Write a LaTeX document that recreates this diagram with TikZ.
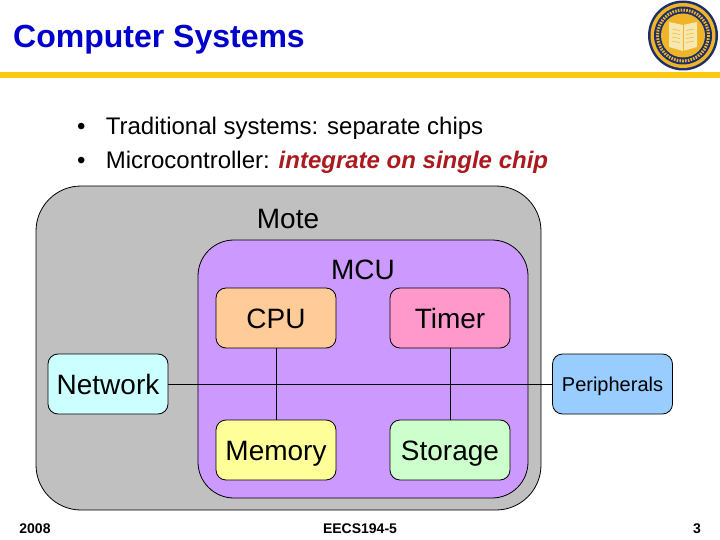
\documentclass[tikz,border=0pt]{standalone}
\usepackage{fontspec}
\setmainfont{Liberation Sans}
\usepackage{xcolor}
\usetikzlibrary{positioning}
\definecolor{TitleBlue}{HTML}{0000CC}
\definecolor{BarGold}{HTML}{FBC90F}
\definecolor{SealNavy}{HTML}{1C2F6B}
\definecolor{SealGold}{HTML}{F0B429}
\definecolor{SealCream}{HTML}{F7E7B0}
\definecolor{ChipRed}{HTML}{AA1A1F}
\definecolor{MoteGray}{HTML}{C0C0C0}
\definecolor{McuPurple}{HTML}{CC99FF}
\definecolor{CpuOrange}{HTML}{FFCC99}
\definecolor{TimerPink}{HTML}{FF99CC}
\definecolor{NetCyan}{HTML}{CCFFFF}
\definecolor{PeriphBlue}{HTML}{99CCFF}
\definecolor{MemYellow}{HTML}{FFFF99}
\definecolor{StoreGreen}{HTML}{CCFFCC}
\tikzset{
  blockbox/.style={draw=black, line width=0.8pt, rectangle, rounded corners=10pt,
                   minimum width=120pt, minimum height=60pt, inner sep=0pt,
                   outer sep=0pt, text height=20pt, text depth=0pt,
                   font=\fontsize{28}{30}\selectfont},
  groupbox/.style={draw=black, line width=0.8pt, rectangle, inner sep=0pt, outer sep=0pt},
  grouplabel/.style={font=\fontsize{28}{30}\selectfont, inner sep=0pt, text height=20pt, text depth=0pt},
  bulletline/.style={anchor=base west, font=\fontsize{24}{26}\selectfont, inner sep=0pt},
  footer/.style={anchor=base, font=\fontsize{14}{16}\selectfont\bfseries, inner sep=0pt},
  wire/.style={draw=black, line width=0.8pt}
}

\begin{document}
\begin{tikzpicture}[x=1pt, y=-1pt, node distance=54pt]
  \useasboundingbox (0,0) rectangle (720,540);
  \fill[white] (0,0) rectangle (720,540);

  % title and bar
  \node[anchor=base west, inner sep=0pt, text=TitleBlue, font=\fontsize{32}{34}\selectfont\bfseries]
    (title) at (13,48) {Computer Systems};
  \fill[BarGold] (0,72) rectangle (720,78.5);

  % seal
  \fill[SealNavy] (683,35.5) circle[radius=35];
  \fill[SealGold] (683,35.5) circle[radius=32.5];
  \fill[SealNavy] (683,35.5) circle[radius=29];
  \draw[SealGold, line width=3pt, dash pattern=on 1.6pt off 1.2pt] (683,35.5) circle[radius=25.5];
  \fill[SealGold] (683,35.5) circle[radius=22];
  \fill[SealCream] (669,22) -- (683,25) -- (697,22) -- (697,47) -- (683,51) -- (669,47) -- cycle;
  \draw[SealGold, line width=1pt] (683,25) -- (683,51);
  \foreach \rowy in {29,33,37,41} {
    \draw[SealGold, line width=0.5pt] (672,\rowy) -- (680,\rowy+1.5);
    \draw[SealGold, line width=0.5pt] (686,\rowy+1.5) -- (694,\rowy);
  }

  % bullets
  \node[bulletline] (bulleta) at (77,135) {•\hspace{20.2pt}Traditional systems: separate chips};
  \node[bulletline] (bulletb) at (77,169) {•\hspace{20.2pt}Microcontroller: \textcolor{ChipRed}{\bfseries\itshape integrate on single chip}};

  % containers
  \node[groupbox, rounded corners=45pt, fill=MoteGray, minimum width=505pt, minimum height=324pt]
    (mote) at (288.5,348) {};
  \node[groupbox, rounded corners=36pt, fill=McuPurple, minimum width=330pt, minimum height=258pt]
    (mcu) at (363,369) {};
  \node[grouplabel] (motelabel) at (288,219) {Mote};
  \node[grouplabel] (mculabel) at (363,269) {MCU};

  % blocks
  \node[blockbox, fill=CpuOrange] (cpu) at (276,318) {CPU};
  \node[blockbox, fill=TimerPink, right=of cpu] (timer) {Timer};
  \node[blockbox, fill=MemYellow, below=72pt of cpu] (memory) {Memory};
  \node[blockbox, fill=StoreGreen, below=72pt of timer] (storage) {Storage};
  \node[blockbox, fill=NetCyan] (network) at (108,384) {Network};
  \node[blockbox, fill=PeriphBlue, text height=14.3pt, font=\fontsize{20}{22}\selectfont] (peripherals) at (612.5,384) {Peripherals};

  % connections
  \draw[wire] (network) -- (peripherals);
  \draw[wire] (cpu) -- (memory);
  \draw[wire] (timer) -- (storage);

  % footer
  \node[footer] (year) at (35,533) {2008};
  \node[footer] (course) at (360,533) {EECS194-5};
  \node[footer] (page) at (697,533) {3};
\end{tikzpicture}
\end{document}
